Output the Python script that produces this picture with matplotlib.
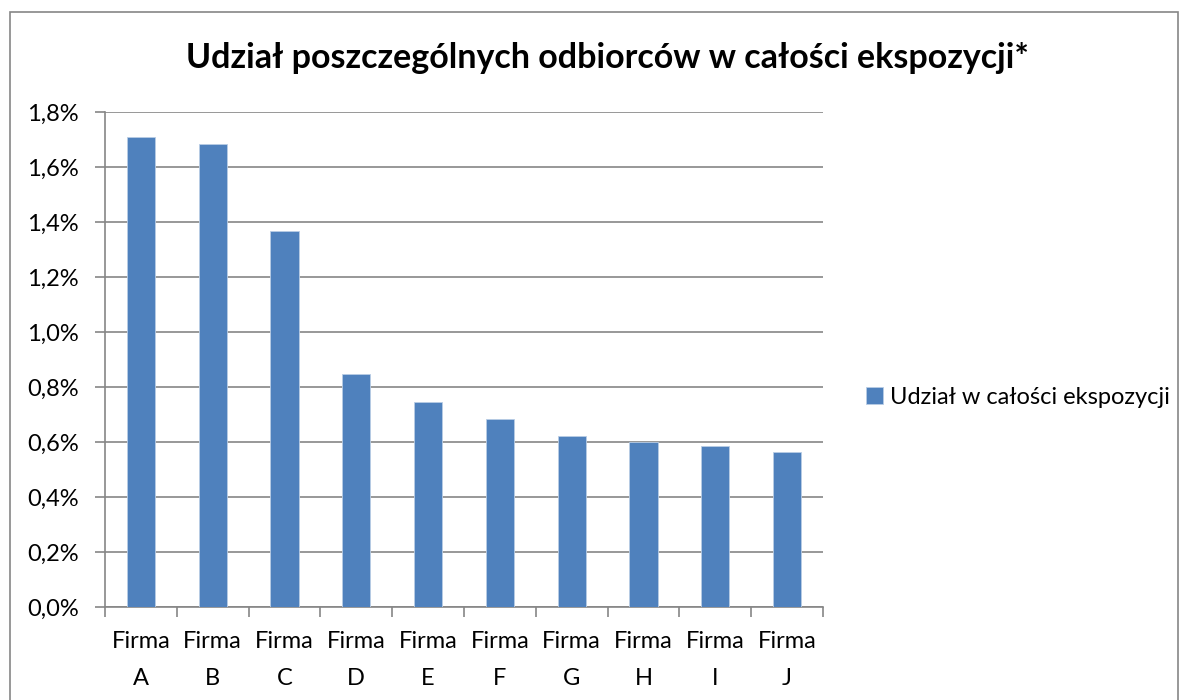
import matplotlib
matplotlib.use("Agg")
import matplotlib.pyplot as plt
from matplotlib.patches import Rectangle
from matplotlib.ticker import FuncFormatter, MultipleLocator

plt.rcParams['font.family'] = ['Lato', 'DejaVu Sans']

categories = ["Firma\nA", "Firma\nB", "Firma\nC", "Firma\nD", "Firma\nE",
              "Firma\nF", "Firma\nG", "Firma\nH", "Firma\nI", "Firma\nJ"]
values = [1.709, 1.683, 1.366, 0.847, 0.745, 0.684, 0.622, 0.599, 0.585, 0.565]
series_name = "Udział w całości ekspozycji"
title = "Udział poszczególnych odbiorców w całości ekspozycji*"

W, H = 1186, 700
fig = plt.figure(figsize=(W / 100, H / 100), dpi=100)
ax = fig.add_axes([105 / W, 1 - 607 / H, (823 - 105) / W, (607 - 112) / H])

grid_c = "#868686"
x = list(range(len(categories)))
ax.bar(x, values, width=0.39, color="#4F81BD", edgecolor="#B9CDE5", linewidth=0.6,
       label=series_name, zorder=3)
ax.set_xlim(-0.5, len(categories) - 0.5)
ax.set_ylim(0, 1.8)
ax.yaxis.set_major_locator(MultipleLocator(0.2))
ax.yaxis.set_major_formatter(FuncFormatter(lambda v, p: f"{v:.1f}%".replace(".", ",")))
ax.grid(axis="y", color=grid_c, linewidth=1.2, zorder=0)
ax.set_xticks(x)
ax.set_xticklabels(categories, fontsize=17, linespacing=1.95)
ax.set_xticks([i - 0.5 for i in range(len(categories) + 1)], minor=True)
ax.tick_params(axis="x", which="major", length=0, pad=17)
ax.tick_params(axis="x", which="minor", length=7, color=grid_c, width=1.2)
ax.tick_params(axis="y", length=7, color=grid_c, width=1.2, labelsize=17, pad=12)
for s in ["top", "right"]:
    ax.spines[s].set_visible(False)
for s in ["left", "bottom"]:
    ax.spines[s].set_color(grid_c)
    ax.spines[s].set_linewidth(1.2)
for lab in ax.get_yticklabels() + ax.get_xticklabels():
    lab.set_color("#000000")

fig.text(607 / W, 1 - 58 / H, title, fontsize=24.5, fontweight="bold",
         ha="center", va="center")

leg = fig.legend(loc="center left", bbox_to_anchor=(857 / W, 1 - 397 / H), frameon=False,
                 fontsize=17, handlelength=0.7, handleheight=0.7, handletextpad=0.3,
                 borderaxespad=0)

fig.patches.append(Rectangle((10 / W, -0.05), (1178 - 10) / W, 1.05 - 12 / H,
                             transform=fig.transFigure, fill=False,
                             edgecolor="#868686", linewidth=1.2))

fig.savefig("out.png", dpi=100)
